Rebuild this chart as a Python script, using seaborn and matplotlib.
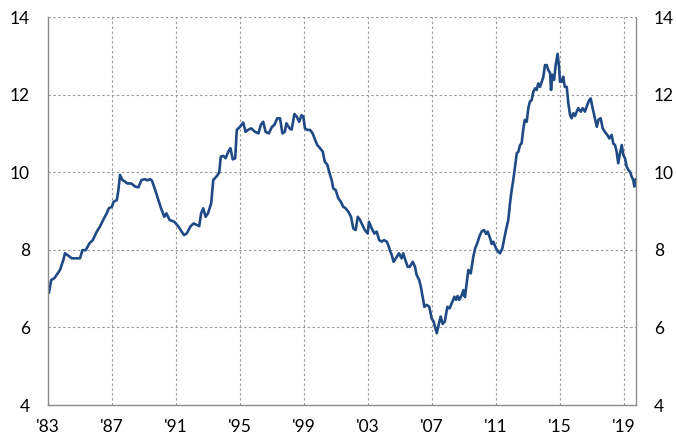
import matplotlib
matplotlib.use("Agg")
import matplotlib.pyplot as plt
import seaborn as sns
import pandas as pd

years = [
    1983.06, 1983.2, 1983.4, 1983.6, 1983.75, 1983.96, 1984.06, 1984.27, 1984.48, 1984.8,
    1985.0, 1985.15, 1985.35, 1985.6, 1985.8, 1986.05, 1986.25, 1986.45, 1986.67, 1986.8,
    1987.0, 1987.1, 1987.3, 1987.4, 1987.5, 1987.65, 1987.8, 1987.95, 1988.2, 1988.45,
    1988.65, 1988.85, 1989.06, 1989.2, 1989.38, 1989.5, 1989.7, 1989.9, 1990.1, 1990.27,
    1990.4, 1990.6, 1990.9, 1991.15, 1991.35, 1991.5, 1991.67, 1991.9, 1992.0, 1992.1,
    1992.3, 1992.45, 1992.57, 1992.7, 1992.85, 1993.0, 1993.2, 1993.33, 1993.55, 1993.7,
    1993.8, 1993.96, 1994.1, 1994.27, 1994.4, 1994.55, 1994.7, 1994.8, 1995.0, 1995.2,
    1995.35, 1995.5, 1995.7, 1995.94, 1996.15, 1996.3, 1996.45, 1996.6, 1996.8, 1997.0,
    1997.15, 1997.33, 1997.5, 1997.65, 1997.8, 1997.9, 1998.1, 1998.23, 1998.4, 1998.55,
    1998.7, 1998.85, 1998.96, 1999.06, 1999.2, 1999.38, 1999.54, 1999.7, 1999.83, 2000.0,
    2000.17, 2000.3, 2000.46, 2000.6, 2000.73, 2000.83, 2000.98, 2001.14, 2001.3, 2001.45,
    2001.6, 2001.77, 2001.94, 2002.08, 2002.23, 2002.36, 2002.5, 2002.65, 2002.8, 2002.98,
    2003.06, 2003.23, 2003.4, 2003.54, 2003.7, 2003.85, 2004.0, 2004.17, 2004.27, 2004.4,
    2004.48, 2004.6, 2004.8, 2004.94, 2005.1, 2005.2, 2005.3, 2005.48, 2005.6, 2005.8,
    2005.94, 2006.04, 2006.2, 2006.3, 2006.45, 2006.52, 2006.67, 2006.83, 2006.98, 2007.1,
    2007.3, 2007.4, 2007.54, 2007.67, 2007.8, 2007.96, 2008.1, 2008.27, 2008.4, 2008.5,
    2008.6, 2008.7, 2008.86, 2008.96, 2009.06, 2009.17, 2009.27, 2009.42, 2009.58, 2009.7,
    2009.83, 2009.96, 2010.1, 2010.25, 2010.38, 2010.48, 2010.63, 2010.73, 2010.83, 2011.0,
    2011.14, 2011.25, 2011.4, 2011.52, 2011.67, 2011.77, 2011.875, 2011.98, 2012.08, 2012.19,
    2012.3, 2012.4, 2012.5, 2012.6, 2012.7, 2012.8, 2012.92, 2013.02, 2013.12, 2013.23,
    2013.33, 2013.44, 2013.54, 2013.64, 2013.75, 2013.86, 2013.96, 2014.06, 2014.17, 2014.27,
    2014.38, 2014.44, 2014.52, 2014.63, 2014.73, 2014.85, 2014.94, 2015.0, 2015.1, 2015.2,
    2015.3, 2015.42, 2015.52, 2015.63, 2015.73, 2015.83, 2015.94, 2016.0, 2016.14, 2016.3,
    2016.42, 2016.56, 2016.7, 2016.83, 2016.92, 2017.04, 2017.2, 2017.3, 2017.4, 2017.54,
    2017.67, 2017.8, 2017.96, 2018.08, 2018.23, 2018.33, 2018.44, 2018.54, 2018.64, 2018.75,
    2018.86, 2018.96, 2019.06, 2019.17, 2019.27, 2019.38, 2019.48, 2019.58, 2019.65, 2019.73,
]

values = [
    6.89, 7.22, 7.27, 7.39, 7.48, 7.74, 7.91, 7.85, 7.78, 7.78,
    7.78, 7.99, 7.99, 8.17, 8.25, 8.47, 8.60, 8.77, 8.94, 9.07,
    9.11, 9.24, 9.28, 9.54, 9.93, 9.80, 9.76, 9.71, 9.71, 9.63,
    9.61, 9.80, 9.82, 9.79, 9.82, 9.78, 9.54, 9.28, 9.03, 8.85,
    8.94, 8.77, 8.72, 8.60, 8.47, 8.38, 8.42, 8.60, 8.64, 8.68,
    8.64, 8.61, 8.94, 9.07, 8.85, 8.94, 9.20, 9.80, 9.90, 9.99,
    10.40, 10.42, 10.36, 10.53, 10.62, 10.33, 10.36, 11.09, 11.17, 11.28,
    11.04, 11.09, 11.13, 11.04, 11.00, 11.22, 11.30, 11.04, 11.00, 11.17,
    11.22, 11.39, 11.39, 11.00, 11.04, 11.26, 11.13, 11.10, 11.50, 11.43,
    11.30, 11.47, 11.43, 11.13, 11.09, 11.09, 11.00, 10.83, 10.70, 10.62,
    10.53, 10.27, 10.19, 9.97, 9.80, 9.58, 9.54, 9.33, 9.24, 9.11,
    9.07, 8.98, 8.85, 8.55, 8.51, 8.85, 8.77, 8.64, 8.51, 8.42,
    8.72, 8.55, 8.42, 8.47, 8.25, 8.21, 8.25, 8.21, 8.12, 7.95,
    7.87, 7.69, 7.82, 7.91, 7.78, 7.91, 7.78, 7.56, 7.56, 7.69,
    7.56, 7.35, 7.22, 7.05, 6.71, 6.53, 6.58, 6.53, 6.23, 6.15,
    5.85, 6.04, 6.28, 6.09, 6.15, 6.53, 6.49, 6.66, 6.79, 6.71,
    6.81, 6.71, 6.83, 6.96, 6.78, 7.14, 7.48, 7.39, 7.82, 8.04,
    8.17, 8.34, 8.47, 8.51, 8.41, 8.47, 8.30, 8.15, 8.21, 8.04,
    7.95, 7.91, 8.04, 8.30, 8.60, 8.77, 9.20, 9.54, 9.80, 10.14,
    10.49, 10.53, 10.70, 10.74, 11.09, 11.35, 11.30, 11.65, 11.82, 11.86,
    12.07, 12.16, 12.12, 12.29, 12.20, 12.33, 12.46, 12.76, 12.76, 12.63,
    12.56, 12.12, 12.51, 12.38, 12.76, 13.05, 12.72, 12.33, 12.33, 12.46,
    12.20, 12.20, 11.78, 11.47, 11.39, 11.52, 11.45, 11.52, 11.65, 11.56,
    11.65, 11.56, 11.73, 11.86, 11.90, 11.65, 11.35, 11.17, 11.35, 11.39,
    11.13, 11.04, 10.96, 10.87, 10.96, 10.74, 10.70, 10.53, 10.23, 10.49,
    10.70, 10.44, 10.36, 10.14, 10.06, 10.01, 9.88, 9.80, 9.63, 9.82,
]

x_ticks = [1983, 1987, 1991, 1995, 1999, 2003, 2007, 2011, 2015, 2019]
x_tick_labels = ["'83", "'87", "'91", "'95", "'99", "'03", "'07", "'11", "'15", "'19"]
y_ticks = [4, 6, 8, 10, 12, 14]

sns.set_style("white")
plt.rcParams['font.family'] = ['Lato', 'DejaVu Sans']

df = pd.DataFrame({"year": years, "value": values})

fig = plt.figure(figsize=(6.76, 4.41), dpi=100)
ax = fig.add_axes([48 / 676, 36 / 441, 588 / 676, 388 / 441])

sns.lineplot(data=df, x="year", y="value", ax=ax, color="#1f4a85", linewidth=1.9)

ax.set_xlim(1983, 2019.75)
ax.set_ylim(4, 14)
ax.set_xticks(x_ticks)
ax.set_xticklabels(x_tick_labels)
ax.set_yticks(y_ticks)
ax.set_xlabel("")
ax.set_ylabel("")

ax.grid(True, color="#9a9a9a", linestyle=(0, (2.2, 2.2)), linewidth=0.8)
ax.set_axisbelow(True)

for side in ["left", "bottom", "right"]:
    ax.spines[side].set_visible(True)
    ax.spines[side].set_color("#8c8c8c")
    ax.spines[side].set_linewidth(1.0)
ax.spines["top"].set_visible(False)

ax.tick_params(axis="y", which="both", left=False, right=False, length=0,
               labelleft=True, labelright=True, pad=13, labelsize=12.5, colors="#000000")
ax.tick_params(axis="x", which="both", bottom=False, length=0, pad=10,
               labelsize=12.5, colors="#000000")

fig.savefig("out.png", dpi=100)
